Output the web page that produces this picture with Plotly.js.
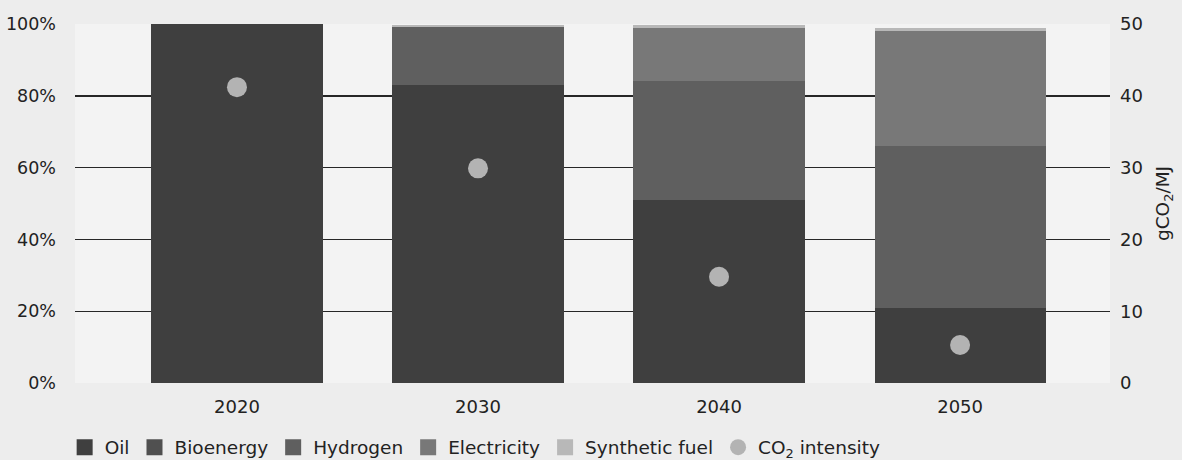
<!DOCTYPE html>
<html>
<head>
<meta charset="utf-8">
<script src="https://cdn.plot.ly/plotly-3.0.1.min.js"></script>
<style>html,body{margin:0;padding:0;background:#ededed;}#chart{width:1182px;height:460px;}</style>
</head>
<body>
<div id="chart"></div>
<script>
const years = ["2020", "2030", "2040", "2050"];
const oil = [100, 83, 51, 21];
const bioenergy = [0, 0, 0, 0];
const hydrogen = [0, 16.3, 33, 45];
const electricity = [0, 0, 15, 32];
const syntheticFuel = [0, 0.5, 0.6, 1];
const co2Intensity = [41.2, 29.9, 14.8, 5.3];
const leftTicks = [0, 20, 40, 60, 80, 100];
const rightTicks = [0, 10, 20, 30, 40, 50];

const colors = {
  oil: "#3f3f3f",
  bio: "#505050",
  hyd: "#5f5f5f",
  ele: "#787878",
  syn: "#b8b8b8",
  co2: "#b3b3b3"
};

function barTrace(name, vals, color) {
  return {
    type: "bar", name: name, x: years, y: vals, width: 0.71,
    marker: {color: color, line: {width: 0}},
    showlegend: false
  };
}
function legendSquare(name, color) {
  return {
    type: "scatter", mode: "markers", name: name, x: [years[0]], y: [null],
    marker: {symbol: "square", color: color, size: 20, line: {width: 0}},
    showlegend: true
  };
}

const traces = [
  barTrace("Oil", oil, colors.oil),
  barTrace("Bioenergy", bioenergy, colors.bio),
  barTrace("Hydrogen", hydrogen, colors.hyd),
  barTrace("Electricity", electricity, colors.ele),
  barTrace("Synthetic fuel", syntheticFuel, colors.syn),
  legendSquare("Oil", colors.oil),
  legendSquare("Bioenergy", colors.bio),
  legendSquare("Hydrogen", colors.hyd),
  legendSquare("Electricity", colors.ele),
  legendSquare("Synthetic fuel", colors.syn),
  {
    type: "scatter", mode: "markers", name: "CO<sub>2</sub> intensity",
    x: years, y: co2Intensity, yaxis: "y2",
    marker: {color: colors.co2, size: 20, line: {width: 0}}
  }
];

const fontFam = "DejaVu Sans, sans-serif";
const layout = {
  width: 1182, height: 460,
  paper_bgcolor: "#ededed", plot_bgcolor: "#f3f3f3",
  font: {family: fontFam, size: 16, color: "#222"},
  barmode: "stack",
  margin: {l: 75, r: 72, t: 24, b: 77, autoexpand: false},
  showlegend: true,
  legend: {
    orientation: "h", x: -0.010, xanchor: "left", y: -0.18, yanchor: "middle",
    font: {size: 18.5, color: "#222"}, bgcolor: "rgba(0,0,0,0)",
    traceorder: "normal", itemwidth: 30, tracegroupgap: 0
  },
  xaxis: {
    type: "category", range: [-0.672, 3.622],
    showgrid: false, showline: false, zeroline: false,
    ticks: "", tickfont: {size: 18, color: "#222"}, ticklabelstandoff: 11
  },
  yaxis: {
    range: [0, 100], tickvals: leftTicks,
    ticktext: leftTicks.map(v => v + "%"),
    showgrid: true, gridcolor: "#262626", gridwidth: 1.4,
    zeroline: false, showline: false, ticks: "",
    ticklabelstandoff: 18,
    tickfont: {size: 17.5, color: "#222"}
  },
  yaxis2: {
    overlaying: "y", side: "right", range: [0, 50], tickvals: rightTicks,
    showgrid: false, zeroline: false, showline: false, ticks: "",
    ticklabelstandoff: 9,
    tickfont: {size: 18, color: "#222"},
    title: {text: "gCO<sub>2</sub>/MJ", font: {size: 18.5, color: "#222"}, standoff: 14}
  }
};

Plotly.newPlot("chart", traces, layout, {displayModeBar: false, staticPlot: true});
</script>
</body>
</html>
